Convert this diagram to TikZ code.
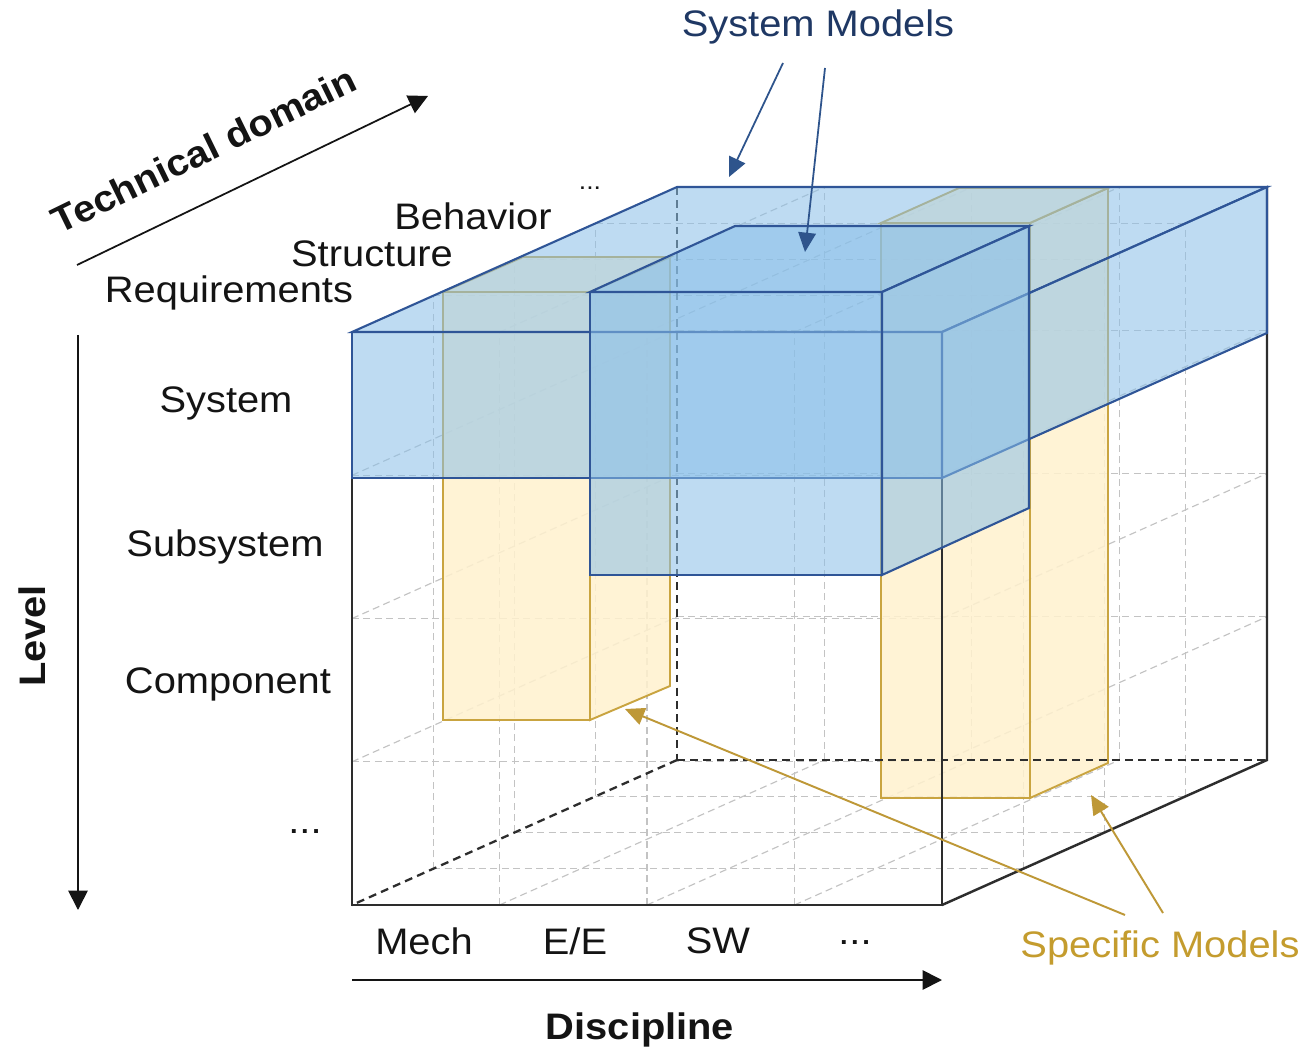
\documentclass[tikz,border=0pt]{standalone}
\usepackage{fontspec}
\setmainfont[FakeStretch=1.08]{Liberation Sans}
\usetikzlibrary{arrows.meta}
\definecolor{cubeedge}{RGB}{45,45,45}
\definecolor{gridgray}{RGB}{195,195,195}
\definecolor{bluefill}{RGB}{137,191,233}
\definecolor{blueedge}{RGB}{47,85,151}
\definecolor{yelfill}{RGB}{255,241,206}
\definecolor{yeledge}{RGB}{201,164,64}
\definecolor{navytext}{RGB}{31,56,100}
\definecolor{navyarrow}{RGB}{46,84,140}
\definecolor{goldtext}{RGB}{196,156,46}
\definecolor{goldarrow}{RGB}{190,152,55}
\definecolor{txtblack}{RGB}{20,20,20}
\newcommand\lblfont{\fontsize{21}{25}\selectfont}
\begin{document}
\begin{tikzpicture}[x=0.02cm,y=-0.02cm,
  lbl/.style={font=\lblfont, text=txtblack, inner sep=0pt},
  boldlbl/.style={font=\lblfont\bfseries, text=txtblack, inner sep=0pt},
  gridline/.style={draw=gridgray, line width=0.65pt, dash pattern=on 4pt off 2.5pt},
  hiddenedge/.style={draw=cubeedge, line width=1.3pt, dash pattern=on 4.5pt off 3pt},
  cubeline/.style={draw=cubeedge, line width=1.4pt, line join=miter},
  yelface/.style={fill=yelfill, fill opacity=0.85, draw=yeledge, line width=1.1pt, line join=miter},
  blueface/.style={fill=bluefill, fill opacity=0.55, draw=blueedge, line width=1.2pt, line join=miter},
  axisarrow/.style={draw=txtblack, line width=1pt, -{Triangle[length=11pt,width=11pt]}},
  smarrow/.style={draw=navyarrow, line width=1pt, -{Triangle[length=11pt,width=10pt]}},
  sparrow/.style={draw=goldarrow, line width=1.1pt, -{Triangle[length=11pt,width=10pt]}}
]
\useasboundingbox[fill=white] (0,0) rectangle (1308,1060);

% ---------- surface lattice of the cube ----------
\begin{scope}[shift={(352,905)}, x={(2.95cm,0cm)}, y={(0cm,2.865cm)}, z={(1.625cm,0.725cm)}]
  \foreach \a in {1,2,3} {
    \draw[gridline] (\a,0,0) -- (\a,4,0);
    \draw[gridline] (0,\a,0) -- (4,\a,0);
    \draw[gridline] (\a,0,4) -- (\a,4,4);
    \draw[gridline] (0,\a,4) -- (4,\a,4);
    \draw[gridline] (0,\a,0) -- (0,\a,4);
    \draw[gridline] (0,0,\a) -- (0,4,\a);
    \draw[gridline] (4,\a,0) -- (4,\a,4);
    \draw[gridline] (4,0,\a) -- (4,4,\a);
    \draw[gridline] (\a,0,0) -- (\a,0,4);
    \draw[gridline] (0,0,\a) -- (4,0,\a);
    \draw[gridline] (\a,4,0) -- (\a,4,4);
    \draw[gridline] (0,4,\a) -- (4,4,\a);
  }
\end{scope}

% ---------- specific models (yellow) ----------
\filldraw[yelface] (443,292) -- (590,292) -- (590,720) -- (443,720) -- cycle;
\filldraw[yelface] (590,292) -- (670,257) -- (670,686) -- (590,720) -- cycle;
\filldraw[yelface] (443,292) -- (523,257) -- (670,257) -- (590,292) -- cycle;

\filldraw[yelface] (881,223) -- (1030,223) -- (1030,798) -- (881,798) -- cycle;
\filldraw[yelface] (1030,223) -- (1108,188) -- (1108,763) -- (1030,798) -- cycle;
\filldraw[yelface] (881,223) -- (959,188) -- (1108,188) -- (1030,223) -- cycle;

% ---------- cube edges ----------
\coordinate (fbl) at (352,905);
\coordinate (fbr) at (942,905);
\coordinate (ftl) at (352,332);
\coordinate (ftr) at (942,332);
\coordinate (bbl) at (677,760);
\coordinate (bbr) at (1267,760);
\coordinate (btl) at (677,187);
\coordinate (btr) at (1267,187);
\draw[hiddenedge] (btl) -- (bbl);
\draw[hiddenedge] (bbl) -- (bbr);
\draw[hiddenedge] (bbl) -- (fbl);
\draw[cubeline] (ftl) -- (fbl) -- (fbr) -- (ftr) -- cycle;
\draw[cubeline] (fbr) -- (bbr) -- (btr);

% ---------- system models (blue) ----------
\filldraw[blueface] (352,332) -- (942,332) -- (942,478) -- (352,478) -- cycle;
\filldraw[blueface] (352,332) -- (677,187) -- (1267,187) -- (942,332) -- cycle;
\filldraw[blueface] (942,332) -- (1267,187) -- (1267,333) -- (942,478) -- cycle;

\filldraw[blueface] (590,292) -- (882,292) -- (882,575) -- (590,575) -- cycle;
\filldraw[blueface] (590,292) -- (735,226) -- (1029,226) -- (882,292) -- cycle;
\filldraw[blueface] (882,292) -- (1029,226) -- (1029,508) -- (882,575) -- cycle;

% ---------- axis labels ----------
\node[lbl] (beh) at (473,216) {Behavior};
\node[lbl] (str) at (372,254) {Structure};
\node[lbl] (req) at (229,293) {Requirements};
\node[lbl] (tdots) at (590,188) {\fontsize{14}{16}\selectfont ...};

\node[lbl] (sys) at (226,403) {System};
\node[lbl] (sub) at (225,547) {Subsystem};
\node[lbl] (comp) at (228,684) {Component};
\node[lbl] (ldots) at (305,832) {...};

\node[lbl] (mech) at (424,941) {Mech};
\node[lbl] (ee) at (575,941) {E/E};
\node[lbl] (sw) at (718,941) {SW};
\node[lbl] (ddots) at (855,943) {...};

\node[boldlbl, rotate=26] (tech) at (204,150) {Technical domain};
\node[boldlbl, rotate=90] (lev) at (32,636) {Level};
\node[boldlbl] (disc) at (640,1030) {Discipline};

\coordinate (tdS) at (77,265);
\coordinate (tdE) at (428,96);
\draw[axisarrow] (tdS) -- (tdE);
\coordinate (lvS) at (78,335);
\coordinate (lvE) at (78,910);
\draw[axisarrow] (lvS) -- (lvE);
\coordinate (dcS) at (352,980);
\coordinate (dcE) at (942,980);
\draw[axisarrow] (dcS) -- (dcE);

% ---------- callouts ----------
\node[lbl, text=navytext] (sm) at (818,27) {System Models};
\coordinate (sm1s) at (783,63);
\coordinate (sm1e) at (729,177);
\coordinate (sm2s) at (825,68);
\coordinate (sm2e) at (805,252);
\draw[smarrow] (sm1s) -- (sm1e);
\draw[smarrow] (sm2s) -- (sm2e);

\node[lbl, text=goldtext] (spm) at (1160,948) {Specific Models};
\coordinate (sp1s) at (1125,915);
\coordinate (sp1e) at (625,709);
\coordinate (sp2s) at (1163,913);
\coordinate (sp2e) at (1091,795);
\draw[sparrow] (sp1s) -- (sp1e);
\draw[sparrow] (sp2s) -- (sp2e);
\end{tikzpicture}
\end{document}
